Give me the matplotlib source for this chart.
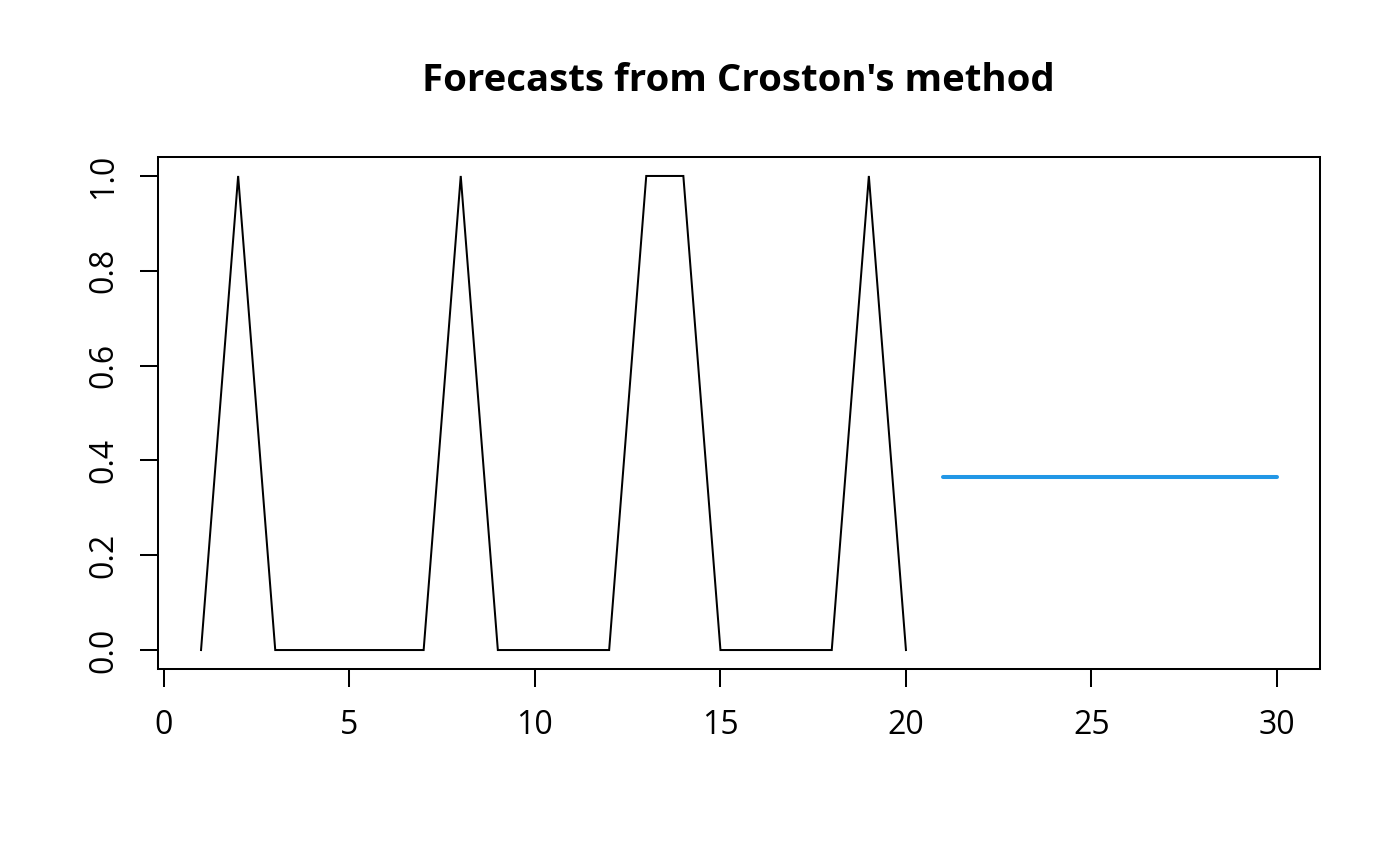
import matplotlib
matplotlib.use("Agg")
import matplotlib.pyplot as plt

plt.rcParams['font.family'] = ['Open Sans', 'DejaVu Sans']

# Data
time_obs = list(range(1, 21))
obs = [0, 1, 0, 0, 0, 0, 0, 1, 0, 0, 0, 0, 1, 1, 0, 0, 0, 0, 1, 0]
time_fc = list(range(21, 31))
fc = [0.364] * 10
xticks = [0, 5, 10, 15, 20, 25, 30]
yticks = [0.0, 0.2, 0.4, 0.6, 0.8, 1.0]
ytick_labels = ["0.0", "0.2", "0.4", "0.6", "0.8", "1.0"]
title = "Forecasts from Croston's method"

fig = plt.figure(figsize=(14, 8.66), dpi=100)
ax = fig.add_axes([158/1400, 1 - 669/866, (1320-158)/1400, (669-157)/866])

lw = 1.45
ax.plot(time_obs, obs, color='black', lw=lw, solid_joinstyle='miter')
ax.plot(time_fc, fc, color='#2297E6', lw=2.9, solid_capstyle='round')

ax.set_xlim(-0.16, 31.16)
ax.set_ylim(-0.04, 1.04)

for s in ax.spines.values():
    s.set_linewidth(lw)

ax.set_xticks(xticks)
ax.set_xticklabels([str(t) for t in xticks])
ax.set_yticks(yticks)
ax.set_yticklabels(ytick_labels, rotation=90, va='center')
ax.tick_params(axis='both', direction='out', length=13, width=lw, labelsize=23, colors='black')
ax.tick_params(axis='x', pad=16)
ax.tick_params(axis='y', pad=14)

fig.text(738/1400, 1 - 81/866, title, ha='center', va='center', fontsize=27.6, fontweight='bold')

fig.savefig('out.png', dpi=100)
